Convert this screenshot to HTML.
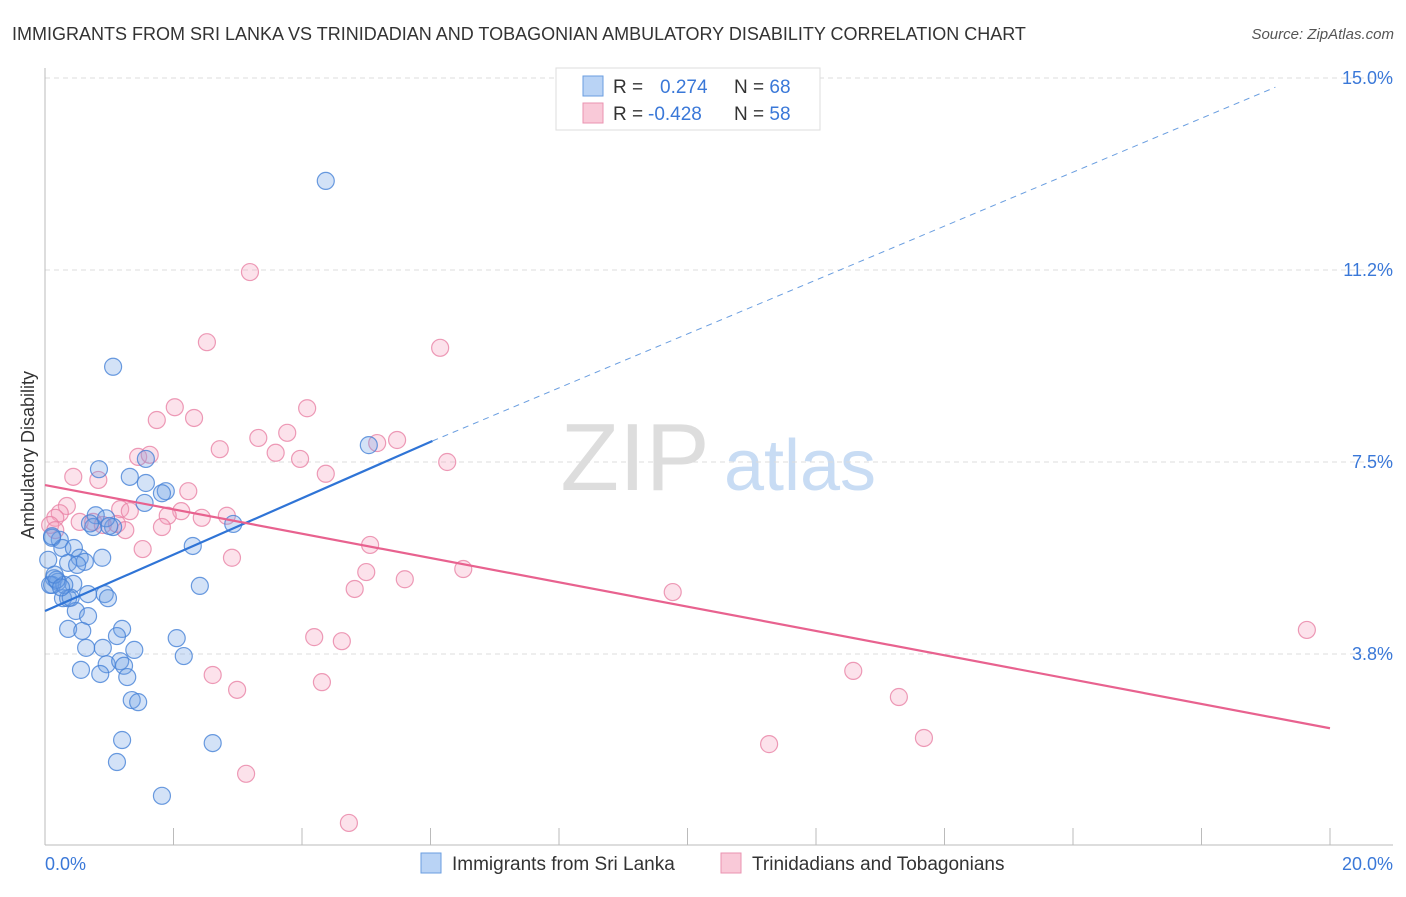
<!DOCTYPE html>
<html><head><meta charset="utf-8"><style>
body{margin:0;background:#fff;font-family:"Liberation Sans",sans-serif}
svg text{font-family:"Liberation Sans",sans-serif}
</style></head><body>
<svg width="1406" height="892" viewBox="0 0 1406 892">
<text x="12" y="40" font-size="18" fill="#333">IMMIGRANTS FROM SRI LANKA VS TRINIDADIAN AND TOBAGONIAN AMBULATORY DISABILITY CORRELATION CHART</text>
<text x="1394" y="39" font-size="15" fill="#555" font-style="italic" text-anchor="end">Source: ZipAtlas.com</text>
<g><text x="635" y="490" font-size="96" fill="#ddd" font-family="Liberation Serif" text-anchor="middle">ZIP</text><text x="800" y="490" font-size="72" fill="#c8dcf4" text-anchor="middle">atlas</text></g>
<g id="grid"></g>
<g id="axes"></g>
<g id="marks"></g>
<text transform="translate(34,455) rotate(-90)" font-size="18" fill="#333" text-anchor="middle">Ambulatory Disability</text>
<g>
<rect x="556" y="68" width="264" height="62" fill="#fff" stroke="#ddd"/>
<rect x="583" y="76" width="20" height="20" fill="#b9d3f5" stroke="#6a9ee0"/>
<rect x="583" y="103" width="20" height="20" fill="#f9c9d8" stroke="#ea93b0"/>
<text x="613" y="93" font-size="19" fill="#333">R = <tspan x="660" fill="#3a78d8">0.274</tspan><tspan x="734" fill="#333">N = </tspan><tspan fill="#3a78d8">68</tspan></text>
<text x="613" y="120" font-size="19" fill="#333">R = <tspan x="648" fill="#3a78d8">-0.428</tspan><tspan x="734" fill="#333">N = </tspan><tspan fill="#3a78d8">58</tspan></text>
</g>
<g>
<rect x="421" y="853" width="20" height="20" fill="#b9d3f5" stroke="#6a9ee0"/>
<text x="452" y="870" font-size="19" fill="#333">Immigrants from Sri Lanka</text>
<rect x="721" y="853" width="20" height="20" fill="#f9c9d8" stroke="#ea93b0"/>
<text x="752" y="870" font-size="19" fill="#333">Trinidadians and Tobagonians</text>
</g>
</svg>
<script>
const blueX=[4.37,1.06,5.04,0.84,1.32,1.57,1.57,1.88,1.82,1.55,0.79,0.75,1.06,2.93,0.23,0.11,0.27,0.45,0.89,0.54,0.62,0.36,0.50,2.30,2.41,0.14,0.20,0.11,0.44,0.28,0.36,0.67,0.93,0.98,0.48,0.67,0.36,0.58,1.20,1.12,2.05,2.16,0.64,0.90,1.39,0.56,0.96,1.17,1.23,0.86,1.28,1.35,1.45,1.20,2.61,1.12,1.82,0.05,0.08,0.11,0.30,0.18,0.40,0.70,0.95,1.00,0.15,0.25];
const blueY=[12.99,9.36,7.83,7.36,7.21,7.56,7.09,6.93,6.89,6.70,6.46,6.23,6.23,6.29,5.98,6.02,5.82,5.82,5.63,5.63,5.55,5.53,5.49,5.86,5.08,5.23,5.16,5.10,5.12,4.84,4.84,4.92,4.92,4.84,4.59,4.49,4.24,4.20,4.24,4.10,4.06,3.71,3.87,3.87,3.83,3.44,3.55,3.61,3.52,3.36,3.30,2.85,2.81,2.07,2.01,1.64,0.98,5.59,5.10,6.05,5.10,5.20,4.85,6.30,6.40,6.25,5.30,5.05];
const pinkX=[3.19,2.52,6.15,2.02,1.74,2.32,4.08,2.72,3.32,3.77,3.59,3.97,5.17,5.48,6.26,1.45,1.63,4.37,0.44,0.83,2.23,0.34,0.23,0.16,1.17,1.32,2.12,1.91,2.44,2.83,0.54,0.75,0.90,1.12,1.25,1.82,0.08,0.16,1.52,5.06,2.91,5.00,6.51,5.60,4.82,9.77,19.64,4.19,4.62,2.61,12.58,4.31,2.99,13.29,13.68,11.27,3.13,4.73];
const pinkY=[11.21,9.84,9.73,8.57,8.32,8.36,8.55,7.75,7.97,8.07,7.68,7.56,7.87,7.93,7.50,7.60,7.64,7.27,7.21,7.15,6.93,6.64,6.50,6.41,6.58,6.54,6.54,6.45,6.41,6.45,6.33,6.33,6.27,6.29,6.17,6.23,6.27,6.17,5.80,5.88,5.63,5.35,5.41,5.21,5.02,4.96,4.22,4.08,4.00,3.34,3.42,3.20,3.05,2.91,2.11,1.99,1.41,0.45];
const blueTrendX=[0,6.03,19.15];
const blueTrendY=[4.59,7.91,14.82];
const pinkTrendX=[0,20];
const pinkTrendY=[7.05,2.30];
const yTicks=[3.75,7.5,11.25,15];
const yTickLabels=["3.8%","7.5%","11.2%","15.0%"];
const xTicks=[0,2,4,6,8,10,12,14,16,18,20];
const NS="http://www.w3.org/2000/svg";
const xs=v=>45+v*64.25, ys=v=>846-v*51.2;
function mk(tag,attrs,parent){const e=document.createElementNS(NS,tag);for(const k in attrs)e.setAttribute(k,attrs[k]);document.getElementById(parent).appendChild(e);return e;}
yTicks.forEach((t,i)=>{
 const l=mk('line',{x1:45,x2:1393,y1:ys(t),y2:ys(t),stroke:'#ddd','stroke-dasharray':'5,4'},'grid');
 
 
 const tx=mk('text',{x:1393,y:ys(t)+6,'font-size':18,fill:'#3a78d8','text-anchor':'end'},'axes');
 tx.textContent=yTickLabels[i];
 
 
});
const ax=mk('line',{x1:45,x2:1393,y1:845,y2:845,stroke:'#bbb'},'axes');


const ay=mk('line',{x1:45,x2:45,y1:68,y2:845,stroke:'#bbb'},'axes');


xTicks.forEach(t=>{const l=mk('line',{x1:xs(t),x2:xs(t),y1:828,y2:845,stroke:'#bbb'},'axes');
 
 });
const x0=mk('text',{x:45,y:870,'font-size':18,fill:'#3a78d8'},'axes');x0.textContent=xTicks[0].toFixed(1)+'%';


const x1=mk('text',{x:1393,y:870,'font-size':18,fill:'#3a78d8','text-anchor':'end'},'axes');x1.textContent=xTicks[xTicks.length-1].toFixed(1)+'%';


pinkX.forEach((x,i)=>{const c=mk('circle',{cx:xs(x),cy:ys(pinkY[i]),r:8.5,fill:'rgba(244,160,188,0.3)',stroke:'rgba(232,130,165,0.8)','stroke-width':1.2},'marks');
 
 });
blueX.forEach((x,i)=>{const c=mk('circle',{cx:xs(x),cy:ys(blueY[i]),r:8.5,fill:'rgba(110,160,230,0.3)',stroke:'rgba(70,130,215,0.8)','stroke-width':1.2},'marks');
 
 });
const bl=mk('line',{x1:xs(blueTrendX[0]),y1:ys(blueTrendY[0]),x2:xs(blueTrendX[1]),y2:ys(blueTrendY[1]),stroke:'#2f74d6','stroke-width':2.2},'marks');


const bd=mk('line',{x1:xs(blueTrendX[1]),y1:ys(blueTrendY[1]),x2:xs(blueTrendX[2]),y2:ys(blueTrendY[2]),stroke:'#6a9ee0','stroke-width':1,'stroke-dasharray':'6,5'},'marks');


const pl=mk('line',{x1:xs(pinkTrendX[0]),y1:ys(pinkTrendY[0]),x2:xs(pinkTrendX[1]),y2:ys(pinkTrendY[1]),stroke:'#e8628f','stroke-width':2.2},'marks');


</script>
</body></html>
